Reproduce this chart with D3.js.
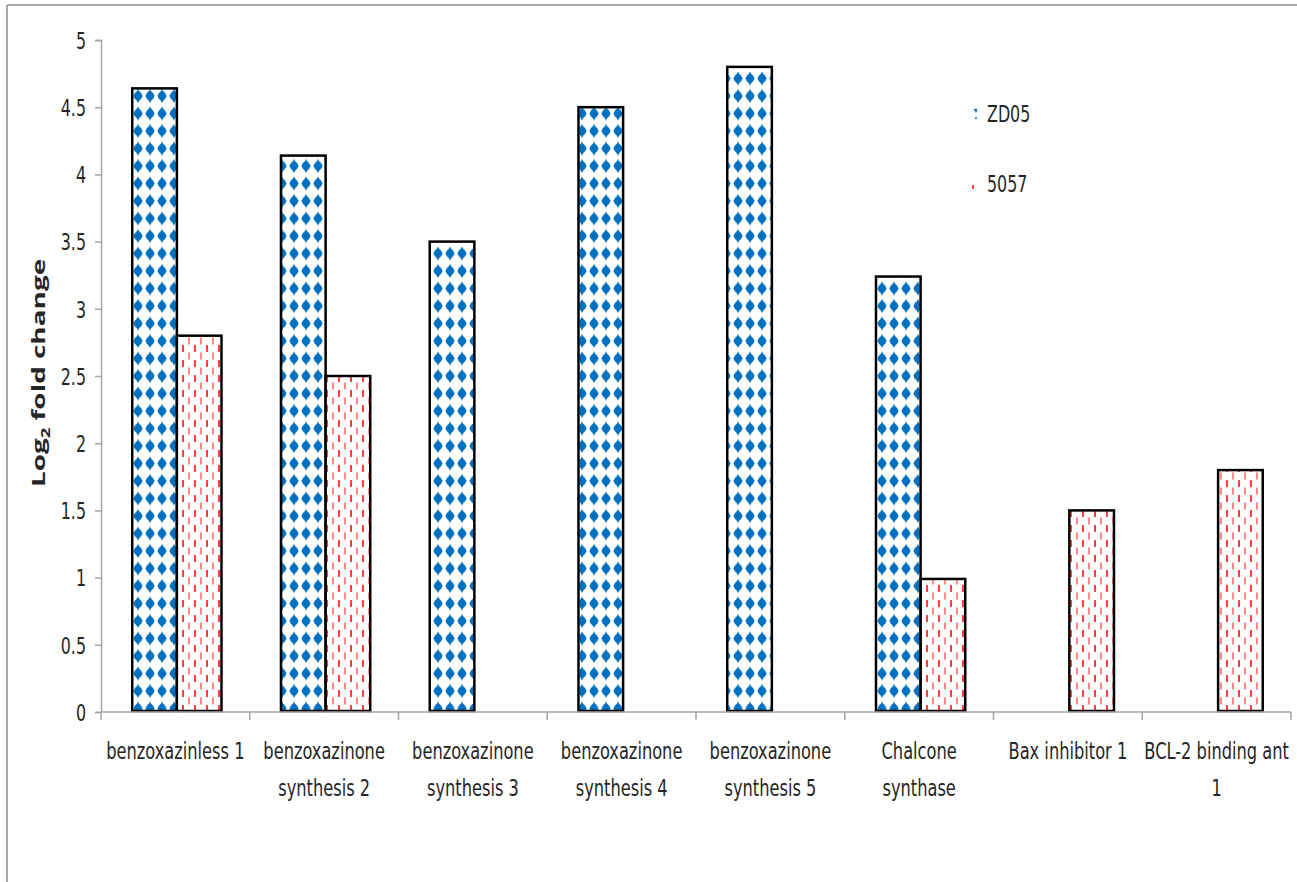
<!DOCTYPE html>
<html>
<head>
<meta charset="utf-8">
<script src="https://cdn.jsdelivr.net/npm/d3@7"></script>
<style>
	html, body {margin: 0; padding: 0; background: #fff;}
	svg {display: block;}
</style>
</head>
<body>
<div id="chart"></div>
<script>
(function(){
	'use strict';

	// data
	var categories = [
		'benzoxazinless 1',
		'benzoxazinone\nsynthesis 2',
		'benzoxazinone\nsynthesis 3',
		'benzoxazinone\nsynthesis 4',
		'benzoxazinone\nsynthesis 5',
		'Chalcone\nsynthase',
		'Bax inhibitor 1',
		'BCL-2 binding ant\n1'];
	var seriesNames = ['ZD05', '5057'];
	var zd05 = [4.64, 4.14, 3.50, 4.50, 4.80, 3.24, null, null];
	var s5057 = [2.80, 2.50, null, null, null, 0.99, 1.50, 1.80];
	var yTicks = [0, 0.5, 1, 1.5, 2, 2.5, 3, 3.5, 4, 4.5, 5];

	var W = 1297, H = 882;
	var margin = {left: 101, right: 6, top: 40, bottom: 170};
	var font = '"DejaVu Sans Condensed", "Liberation Sans Narrow", sans-serif';
	// the reference text is narrow and tall; squeeze a condensed face
	var SX = 0.93, SY = 1.22;

	var svg = d3.select('#chart').append('svg')
		.attr('width', W).attr('height', H);

	// patterns
	var defs = svg.append('defs');
	var blue = defs.append('pattern')
		.attr('id', 'pat-zd05')
		.attr('patternUnits', 'userSpaceOnUse')
		.attr('width', 12).attr('height', 17.5);
	blue.append('rect').attr('width', 12).attr('height', 17.5).attr('fill', '#fff');
	blue.append('path')
		.attr('d', 'M6,1.5 Q7,5 10.8,8.5 Q7,12 6,15.5 Q5,12 1.2,8.5 Q5,5 6,1.5Z')
		.attr('fill', '#0070c0');
	blue.append('ellipse')
		.attr('cx', 6).attr('cy', 8.5).attr('rx', 4).attr('ry', 4.6)
		.attr('fill', '#0070c0');

	var red = defs.append('pattern')
		.attr('id', 'pat-5057')
		.attr('patternUnits', 'userSpaceOnUse')
		.attr('width', 12).attr('height', 15);
	red.append('rect').attr('width', 12).attr('height', 15).attr('fill', '#fff');
	red.append('line')
		.attr('x1', 3).attr('x2', 3).attr('y1', 0).attr('y2', 7)
		.attr('stroke', '#ff0000').attr('stroke-width', 1.5);
	red.append('line')
		.attr('x1', 9).attr('x2', 9).attr('y1', 7.5).attr('y2', 14.5)
		.attr('stroke', '#ff6060').attr('stroke-width', 1.5);

	// frame
	svg.append('line').attr('x1', 7).attr('x2', W).attr('y1', 5).attr('y2', 5)
		.attr('stroke', '#8c8c8c').attr('stroke-width', 1.5);
	svg.append('line').attr('x1', 7).attr('x2', 7).attr('y1', 5).attr('y2', H)
		.attr('stroke', '#8c8c8c').attr('stroke-width', 1.5);

	var x0 = d3.scaleBand().domain(categories)
		.range([margin.left, W - margin.right]);
	var bw = x0.bandwidth();
	var x1 = d3.scaleBand().domain(seriesNames)
		.range([0.21 * bw, 0.81 * bw]);
	var y = d3.scaleLinear().domain([0, 5])
		.range([H - margin.bottom, margin.top]);

	// bars
	var series = [
		{name: 'ZD05', values: zd05, fill: 'url(#pat-zd05)'},
		{name: '5057', values: s5057, fill: 'url(#pat-5057)'}];

	series.forEach(function(s) {
		var rows = categories.map(function(c, i) {return {cat: c, v: s.values[i]};})
			.filter(function(d) {return d.v !== null;});
		var g = svg.append('g').attr('class', 'series');
		g.selectAll('rect.fill').data(rows).enter().append('rect')
			.attr('class', 'fill')
			.attr('x', function(d) {return x0(d.cat) + x1(s.name) + 1;})
			.attr('width', x1.bandwidth() - 2)
			.attr('y', function(d) {return y(d.v);})
			.attr('height', function(d) {return y(0) - y(d.v);})
			.attr('fill', s.fill);
		g.selectAll('rect.outline').data(rows).enter().append('rect')
			.attr('class', 'outline')
			.attr('x', function(d) {return x0(d.cat) + x1(s.name);})
			.attr('width', x1.bandwidth())
			.attr('y', function(d) {return y(d.v);})
			.attr('height', function(d) {return y(0) - y(d.v) - 1;})
			.attr('fill', 'none')
			.attr('stroke', '#000')
			.attr('stroke-width', 2.5);
	});

	// y axis
	var yAxis = svg.append('g')
		.attr('transform', 'translate(' + margin.left + ',0)')
		.call(d3.axisLeft(y).tickValues(yTicks).tickSize(6).tickPadding(9)
			.tickFormat(d3.format('')));
	yAxis.selectAll('path, line').attr('stroke', '#a6a6a6').attr('stroke-width', 1.5);
	yAxis.selectAll('text')
		.attr('x', 0)
		.attr('dy', '0.36em')
		.attr('transform', 'translate(-15,0) scale(' + SX + ',' + SY + ')')
		.attr('font-size', 19).attr('fill', '#262626')
		.style('font-family', font);

	// x axis
	var xAxis = svg.append('g')
		.attr('transform', 'translate(0,' + y(0) + ')');
	xAxis.append('line')
		.attr('x1', margin.left).attr('x2', W - margin.right)
		.attr('stroke', '#a6a6a6').attr('stroke-width', 1.5);
	var bounds = categories.map(function(c) {return x0(c);}).concat([x0.range()[1]]);
	xAxis.selectAll('line.tick').data(bounds).enter().append('line')
		.attr('class', 'tick')
		.attr('x1', function(d) {return d;}).attr('x2', function(d) {return d;})
		.attr('y1', 0).attr('y2', 8)
		.attr('stroke', '#a6a6a6').attr('stroke-width', 1.5);
	var labels = xAxis.selectAll('text.cat').data(categories).enter().append('text')
		.attr('class', 'cat')
		.attr('text-anchor', 'middle')
		.attr('transform', function(c) {
			return 'translate(' + (x0(c) + bw / 2) + ',47) scale(0.95,' + SY + ')';})
		.attr('font-size', 19)
		.attr('fill', '#262626')
		.style('font-family', font);
	labels.each(function(c) {
		var t = d3.select(this);
		c.split('\n').forEach(function(line, i) {
			t.append('tspan')
				.attr('x', 0)
				.attr('y', i * 37 / SY)
				.text(line);});});

	// y title
	var title = svg.append('text')
		.attr('transform', 'translate(45,' + ((y(0) + y(5)) / 2 - 3) + ') rotate(-90) scale(1.55,1)')
		.attr('text-anchor', 'middle')
		.attr('font-size', 18)
		.attr('font-weight', 'bold')
		.attr('fill', '#262626')
		.style('font-family', '"Open Sans", sans-serif');
	title.append('tspan').text('Log');
	title.append('tspan').attr('font-size', 12).attr('dy', 5).text('2');
	title.append('tspan').attr('dy', -5).text(' fold change');

	// legend
	var legend = svg.append('g').attr('transform', 'translate(970,115)');
	series.forEach(function(s, i) {
		var g = legend.append('g').attr('transform', 'translate(0,' + (i * 70) + ')');
		g.append('rect').attr('x', 0).attr('y', -6).attr('width', 7).attr('height', 10)
			.attr('fill', s.fill);
		g.append('text')
			.attr('transform', 'translate(17,7) scale(' + SX + ',' + SY + ')')
			.attr('font-size', 19).attr('fill', '#262626')
			.style('font-family', font)
			.text(s.name);
	});
})();
</script>
</body>
</html>
